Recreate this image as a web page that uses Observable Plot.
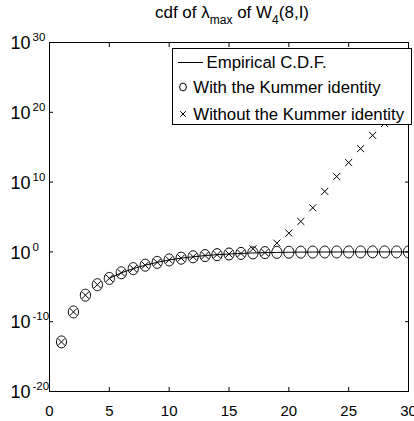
<!DOCTYPE html>
<html><head><meta charset="utf-8">
<script src="https://cdn.jsdelivr.net/npm/d3@7"></script>
<script src="https://cdn.jsdelivr.net/npm/@observablehq/plot@0.6"></script>
<style>
body{margin:0;background:#fff;font-family:"Liberation Sans",Arial,Helvetica,sans-serif;}
#wrap{position:relative;width:414px;height:421px;overflow:hidden;background:#fff;}
#title{position:absolute;left:0;top:4px;width:464px;text-align:center;font-size:17px;line-height:17px;white-space:nowrap;color:#000;}
#title .sub{font-size:12px;position:relative;top:6px;line-height:0;}
#chart{position:absolute;left:0;top:30px;}
#legend{position:absolute;left:172px;top:48px;width:240px;height:77px;box-sizing:border-box;border:1px solid #000;background:#fff;font-size:16.8px;line-height:17px;color:#000;}
#legend .t{position:absolute;white-space:nowrap;}
#legend svg{position:absolute;overflow:visible;}
</style></head><body>
<div id="wrap">
  <div id="title">cdf of λ<span class="sub">max</span> of W<span class="sub">4</span>(8,I)</div>
  <div id="chart"></div>
  <div id="legend"></div>
</div>
<script>
// x positions (integer thresholds)
const xValues = [1,2,3,4,5,6,7,8,9,10,11,12,13,14,15,16,17,18,19,20,21,22,23,24,25,26,27,28,29,30];
// CDF computed with the Kummer identity (circles)
const withKummer = [1.26e-13,2.5e-9,6.3e-7,2.0e-5,1.6e-4,1.0e-3,4.0e-3,0.0126,0.0316,0.0708,0.126,0.2,0.30,0.40,0.50,0.60,0.71,0.79,0.85,0.89,0.93,0.95,0.965,0.977,0.984,0.99,0.993,0.995,0.997,0.998];
// CDF computed without the Kummer identity (crosses)
const withoutKummer = [1.26e-13,2.5e-9,6.3e-7,2.0e-5,1.6e-4,1.0e-3,4.0e-3,0.0126,0.0316,0.0708,0.126,0.2,0.30,0.40,0.50,0.60,2.8,0.79,18,500,2.3e4,2.1e6,4.7e8,6.3e10,6.3e12,6.3e14,5e16,2.5e18,1.6e20,1e22];
// Empirical CDF (line)
const empiricalX = [5,6,7,8,9,10,11,12,13,14,15,16,17,18,19,20,21,22,23,24,25,26,27,28,29,30];
const empiricalY = [1.6e-4,1.0e-3,4.0e-3,0.0126,0.0316,0.0708,0.126,0.2,0.30,0.40,0.50,0.60,0.71,0.79,0.85,0.89,0.93,0.95,0.965,0.977,0.984,0.99,0.993,0.995,0.997,0.998];
// ticks
const xTicks = [0,5,10,15,20,25,30];
const yTicks = [1e-20,1e-10,1e0,1e10,1e20,1e30];
const yExponents = ["-20","-10","0","10","20","30"];
const seriesNames = ["Empirical C.D.F.","With the Kummer identity","Without the Kummer identity"];

const circleData = xValues.map((x,i)=>({x, y: withKummer[i]}));
const crossData = xValues.map((x,i)=>({x, y: withoutKummer[i]}));
const lineData = empiricalX.map((x,i)=>({x, y: empiricalY[i]}));

// slightly tall ellipse symbol (as in the reference)
const ellipse = {
  draw(ctx, size) {
    const r = Math.sqrt(size / Math.PI);
    const rx = r * 0.85, ry = r, k = 0.5522847;
    ctx.moveTo(rx, 0);
    ctx.bezierCurveTo(rx, ry*k, rx*k, ry, 0, ry);
    ctx.bezierCurveTo(-rx*k, ry, -rx, ry*k, -rx, 0);
    ctx.bezierCurveTo(-rx, -ry*k, -rx*k, -ry, 0, -ry);
    ctx.bezierCurveTo(rx*k, -ry, rx, -ry*k, rx, 0);
    ctx.closePath();
  }
};

const chart = Plot.plot({
  width: 414,
  height: 391,
  marginTop: 12,
  marginBottom: 30,
  marginLeft: 49,
  marginRight: 6,
  style: {fontFamily: '"Liberation Sans", Arial, Helvetica, sans-serif', color: "#000", background: "#fff"},
  x: {domain: [0, 30]},
  y: {type: "log", domain: [1e-20, 1e30]},
  marks: [
    Plot.line(lineData, {x: "x", y: "y", stroke: "#000", strokeWidth: 1, clip: true}),
    Plot.dot(circleData, {x: "x", y: "y", symbol: ellipse, r: 6, stroke: "#000", fill: "none", strokeWidth: 1, clip: true}),
    Plot.dot(crossData, {x: "x", y: "y", symbol: "times", r: 3.3, stroke: "#000", strokeWidth: 1, clip: true}),
    Plot.frame({stroke: "#000", strokeWidth: 1}),
    // inward tick marks on all four sides
    Plot.axisX({ticks: xTicks, anchor: "bottom", tickSize: -4, tickFormat: () => "", label: null}),
    Plot.axisX({ticks: xTicks, anchor: "top", tickSize: -4, tickFormat: () => "", label: null}),
    Plot.axisY({ticks: yTicks, anchor: "left", tickSize: -4, tickFormat: () => "", label: null}),
    Plot.axisY({ticks: yTicks, anchor: "right", tickSize: -4, tickFormat: () => "", label: null}),
    // x tick labels
    Plot.axisX({ticks: xTicks, anchor: "bottom", tickSize: 0, tickPadding: 14, fontSize: 15, label: null, tickFormat: d => String(d)}),
    // y tick labels: 10 with superscript exponent
    Plot.text(yTicks, {y: d => d, frameAnchor: "left", text: () => "10", textAnchor: "end", dx: -19, dy: 1, fontSize: 18}),
    Plot.text(yTicks, {y: d => d, frameAnchor: "left", text: (d, i) => yExponents[i], textAnchor: "start", dx: -17, dy: -5, fontSize: 11.5})
  ]
});
document.getElementById("chart").appendChild(chart);

// legend (overlay inside the axes, upper right)
const lg = document.getElementById("legend");
lg.innerHTML = `
  <svg style="left:5px;top:13px" width="25" height="2"><line x1="0" y1="0.5" x2="25" y2="0.5" stroke="#000" stroke-width="1"/></svg>
  <span class="t" style="left:33.5px;top:5px">${seriesNames[0]}</span>
  <svg style="left:10.3px;top:38.3px" width="1" height="1"><ellipse cx="0" cy="0" rx="3.4" ry="3.9" fill="none" stroke="#000" stroke-width="1"/></svg>
  <span class="t" style="left:20.3px;top:30px">${seriesNames[1]}</span>
  <svg style="left:10.3px;top:65px" width="1" height="1"><path d="M-2.8,-2.8L2.8,2.8M-2.8,2.8L2.8,-2.8" stroke="#000" stroke-width="1"/></svg>
  <span class="t" style="left:20.3px;top:56.5px">${seriesNames[2]}</span>
`;
</script>
</body></html>
